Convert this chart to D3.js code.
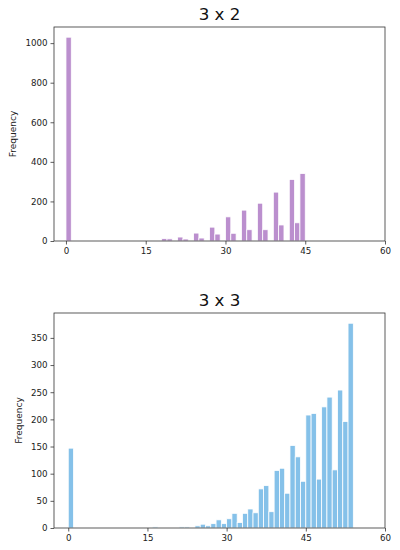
<!DOCTYPE html>
<html>
<head>
<meta charset="utf-8">
<script src="https://cdn.jsdelivr.net/npm/d3@7"></script>
<style>
  body { margin: 0; background: #fff; }
  svg { display: block; font-family: "DejaVu Sans", sans-serif; }
</style>
</head>
<body>
<svg id="chart" width="400" height="550"></svg>
<script>
// histogram counts (bins of width 1, bin starts at the score)
var scores3x2 = [0, 15, 18, 19, 21, 22, 24, 25, 27, 28, 30, 31, 33, 34, 36, 37, 39, 40, 42, 43, 44];
var counts3x2 = [1030, 3, 12, 11, 20, 10, 40, 15, 70, 35, 122, 39, 156, 57, 191, 57, 247, 81, 311, 92, 341];

var scores3x3 = [0, 16, 21, 22, 24, 25, 26, 27, 28, 29, 30, 31, 32, 33, 34, 35, 36, 37, 38, 39,
                 40, 41, 42, 43, 44, 45, 46, 47, 48, 49, 50, 51, 52, 53];
var counts3x3 = [147, 2, 2, 2, 4, 7, 4, 8, 15, 8, 17, 27, 10, 27, 35, 28, 72, 78, 30, 106,
                 110, 64, 152, 131, 86, 208, 211, 90, 223, 241, 107, 254, 196, 377];

var xTicks = [0, 15, 30, 45, 60];
var yTicks3x2 = [0, 200, 400, 600, 800, 1000];
var yTicks3x3 = [0, 50, 100, 150, 200, 250, 300, 350];

var svg = d3.select('#chart');

function drawHist(opts) {
  var m = opts.box;
  var g = svg.append('g');

  // matplotlib style margins: 5% of bin range on the left, fixed 60 on the right
  var x = d3.scaleLinear()
    .domain([-opts.binEnd * 0.05, 60])
    .range([m.left, m.right]);
  var y = d3.scaleLinear()
    .domain([0, d3.max(opts.counts) * 1.05])
    .range([m.bottom, m.top]);

  var data = opts.scores.map(function(s, i) { return {s: s, c: opts.counts[i]}; });

  g.selectAll('rect.bar')
    .data(data)
    .enter()
    .append('rect')
    .attr('class', 'bar')
    .attr('x', function(d) { return x(d.s); })
    .attr('width', function(d) { return x(d.s + 1) - x(d.s); })
    .attr('y', function(d) { return y(d.c); })
    .attr('height', function(d) { return y(0) - y(d.c); })
    .style('fill', opts.color)
    .style('stroke', '#fff')
    .style('stroke-width', 0.8);

  var xAxis = g.append('g')
    .attr('transform', 'translate(0,' + m.bottom + ')')
    .call(d3.axisBottom(x).tickValues(xTicks).tickFormat(d3.format('d')).tickSize(3.5).tickPadding(3));
  var yAxis = g.append('g')
    .attr('transform', 'translate(' + m.left + ',0)')
    .call(d3.axisLeft(y).tickValues(opts.yTicks).tickFormat(d3.format('d')).tickSize(3.5).tickPadding(3));

  [xAxis, yAxis].forEach(function(a) {
    a.select('.domain').remove();
    a.selectAll('line').style('stroke', '#333').style('stroke-width', 0.8);
    a.selectAll('text')
      .style('font-family', '"DejaVu Sans", sans-serif')
      .style('font-size', '8.7px')
      .style('fill', '#222');
  });

  // frame
  g.append('rect')
    .attr('x', m.left)
    .attr('y', m.top)
    .attr('width', m.right - m.left)
    .attr('height', m.bottom - m.top)
    .style('fill', 'none')
    .style('stroke', '#333')
    .style('stroke-width', 0.8);

  g.append('text')
    .attr('x', (m.left + m.right) / 2)
    .attr('y', m.top - 7)
    .attr('text-anchor', 'middle')
    .style('font-size', '16.7px')
    .style('fill', '#111')
    .text(opts.title);

  g.append('text')
    .attr('transform', 'translate(' + opts.labelX + ',' + (m.top + m.bottom) / 2 + ')rotate(-90)')
    .attr('text-anchor', 'middle')
    .style('font-size', '9px')
    .style('fill', '#222')
    .text('Frequency');
}

drawHist({
  title: '3 x 2',
  scores: scores3x2,
  counts: counts3x2,
  binEnd: 45,
  yTicks: yTicks3x2,
  color: '#BB8FCE',
  labelX: 16,
  box: {left: 54, right: 385, top: 27, bottom: 241}
});

drawHist({
  title: '3 x 3',
  scores: scores3x3,
  counts: counts3x3,
  binEnd: 54,
  yTicks: yTicks3x3,
  color: '#85C1E9',
  labelX: 22,
  box: {left: 54, right: 385, top: 313, bottom: 528}
});
</script>
</body>
</html>
